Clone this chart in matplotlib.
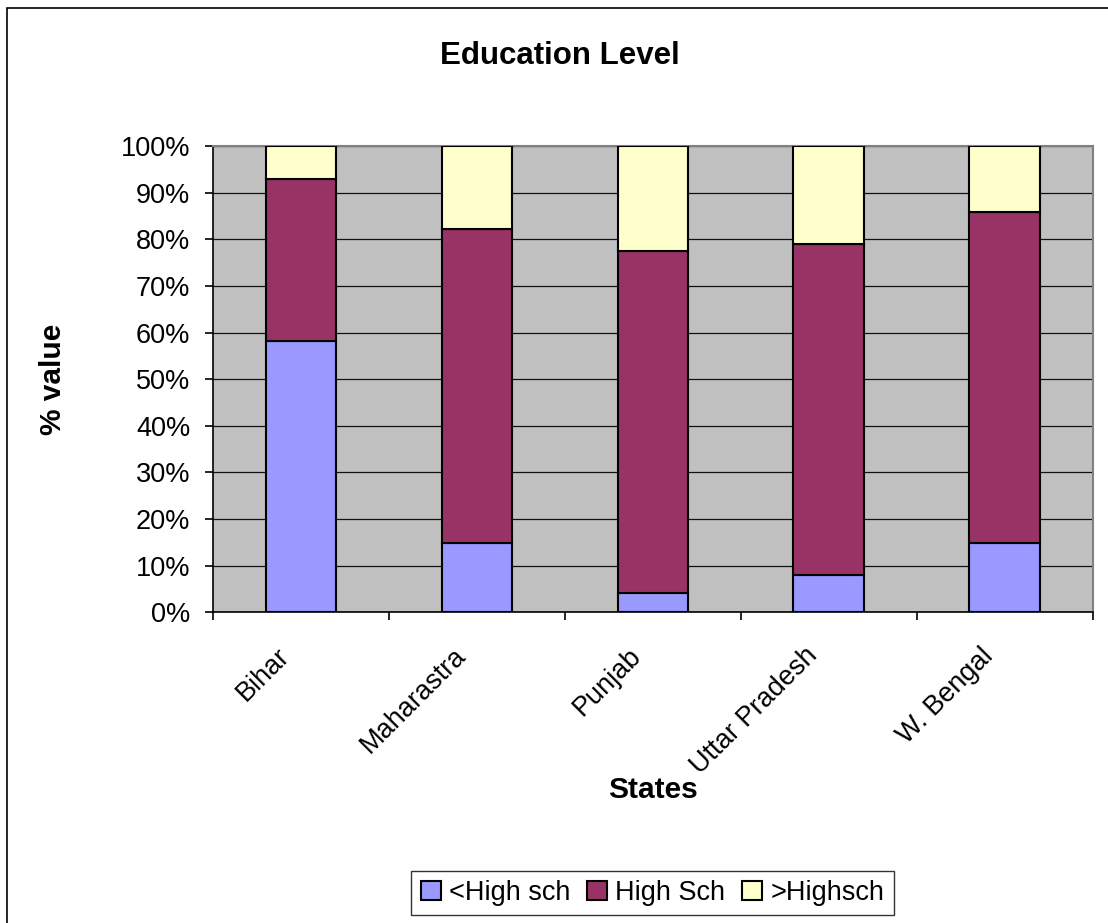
import numpy as np
import matplotlib
matplotlib.use("Agg")
import matplotlib.pyplot as plt
import matplotlib.transforms as mtransforms
from matplotlib.patches import Rectangle

# 字体：类似 Arial
plt.rcParams['font.family'] = ['Liberation Sans', 'DejaVu Sans']

# 数据（百分比）
states = ['Bihar', 'Maharastra', 'Punjab', 'Uttar Pradesh', 'W. Bengal']
series_names = ['<High sch', 'High Sch', '>Highsch']
below_high = [58.2, 14.9, 4.2, 8.1, 14.9]
high_sch = [34.8, 67.4, 73.3, 70.8, 70.9]
above_high = [7.0, 17.7, 22.5, 21.1, 14.2]
colors = ['#9999FF', '#993366', '#FFFFCC']
y_ticks = list(range(0, 101, 10))

W, H = 1108, 923
fig = plt.figure(figsize=(W / 100, H / 100), dpi=100)
fig.patch.set_facecolor('white')

# 外框（只有左边和上边可见）
fig.patches.append(Rectangle((6.5 / W, -0.1), 1.2, 1.1 - 8.5 / H,
                             transform=fig.transFigure, fill=False,
                             edgecolor='black', linewidth=1.2))

ax = fig.add_axes([212.7 / W, 1 - 612.3 / H, 880 / W, 466.3 / H])
ax.set_facecolor('#C0C0C0')

x = np.arange(len(states))
bottom = np.zeros(len(states))
for vals, name, c in zip([below_high, high_sch, above_high], series_names, colors):
    ax.bar(x, vals, width=0.4, bottom=bottom, color=c, edgecolor='black',
           linewidth=1.5, label=name, zorder=3)
    bottom += np.array(vals)

ax.set_xlim(-0.5, len(states) - 0.5)
ax.set_ylim(0, 100)
ax.set_yticks(y_ticks)
ax.set_yticklabels([f'{v}%' for v in y_ticks], fontsize=19.5)
ax.yaxis.grid(True, color='#111111', linewidth=0.9, zorder=1)
ax.set_axisbelow(True)

# 类别刻度在分界处
ax.set_xticks(x)
ax.set_xticks(np.arange(-0.5, len(states)), minor=True)
ax.tick_params(axis='x', which='major', length=0, pad=22)
ax.tick_params(axis='x', which='minor', length=6, width=1.2, direction='out')
ax.tick_params(axis='y', length=6, width=1.2, direction='out', pad=10)
ax.set_xticklabels(states, fontsize=19.5, rotation=45, ha='right',
                   va='center', rotation_mode='anchor')
# 标签整体左移、下移一点
shift = mtransforms.ScaledTranslation(-15 / 100, -9 / 100, fig.dpi_scale_trans)
for lbl in ax.get_xticklabels():
    lbl.set_transform(lbl.get_transform() + shift)

for s in ['top', 'right']:
    ax.spines[s].set_color('#808080')
    ax.spines[s].set_linewidth(1.5)
for s in ['left', 'bottom']:
    ax.spines[s].set_color('black')
    ax.spines[s].set_linewidth(1.2)

fig.text(560 / W, 1 - 56 / H, 'Education Level', fontsize=22.5,
         fontweight='bold', ha='center', va='center')
fig.text(53 / W, 1 - 379 / H, '% value', fontsize=21.5, fontweight='bold',
         rotation=90, ha='center', va='center')
fig.text(652.5 / W, 1 - 790 / H, 'States', fontsize=21.5, fontweight='bold',
         ha='center', va='center')

leg = fig.legend(loc='center', bbox_to_anchor=(652.5 / W, 1 - 893 / H),
                 ncol=3, fontsize=19.5, frameon=True, fancybox=False,
                 handlelength=0.75, handleheight=0.75, handletextpad=0.3,
                 columnspacing=0.6, borderpad=0.35, borderaxespad=0)
leg.get_frame().set_edgecolor('black')
leg.get_frame().set_linewidth(1.0)

fig.savefig('out.png', dpi=100, facecolor='white')
